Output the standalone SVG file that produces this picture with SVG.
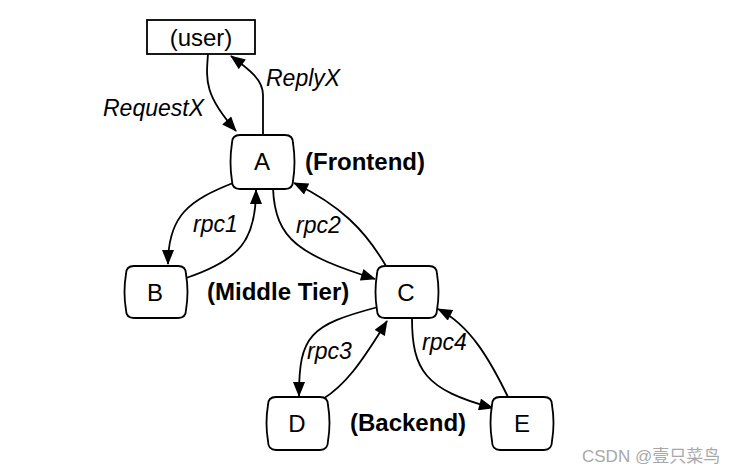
<svg xmlns="http://www.w3.org/2000/svg" width="733" height="474" viewBox="0 0 733 474">
<style>
.box{fill:#fff;stroke:#000;stroke-width:1.8}
.lbl{font-family:"Liberation Sans",Arial,sans-serif;font-size:23px;fill:#000}
.nd{font-size:24px}
.it{font-style:italic}
.bd{font-weight:bold;font-size:24px}
.mid{text-anchor:middle}
.edge{fill:none;stroke:#000;stroke-width:1.8;marker-end:url(#arr)}
</style>
<defs>
<marker id="arr" viewBox="0 0 15 12" refX="14" refY="6" markerWidth="16" markerHeight="12" markerUnits="userSpaceOnUse" orient="auto">
<path d="M0,0 L15,6 L0,12 z" fill="#000"/>
</marker>
</defs>
<rect width="733" height="474" fill="#fff"/>
<g id="connectors">
<path class="edge" d="M208 54 C206 80,204 95,236 131"/>
<path class="edge" d="M263 135 L263 95 C263 80,250 70,231 56"/>
<path class="edge" d="M233 183 C190 200,168 215,168 264"/>
<path class="edge" d="M186 278 C240 260,256 240,256 190"/>
<path class="edge" d="M273 188 C275 240,300 255,375 279"/>
<path class="edge" d="M386 266 C365 230,340 205,294 183"/>
<path class="edge" d="M378 307 C310 325,299 335,299 396"/>
<path class="edge" d="M323 399 C345 385,360 365,387 321"/>
<path class="edge" d="M412 318 C412 370,425 390,493 408"/>
<path class="edge" d="M508 397 C490 360,470 325,438 309"/>
</g>
<g id="user">
<rect class="box" x="147" y="20" width="108" height="34"/>
<text class="lbl nd mid" x="201" y="46">(user)</text>
</g>
<g id="A">
<path class="box" d="M240 135 H285 Q293 135 293 143 Q296 162 293 181 Q293 189 285 189 H240 Q232 189 232 181 Q229 162 232 143 Q232 135 240 135 Z"/>
<text class="lbl nd mid" x="262" y="170">A</text>
</g>
<g id="B">
<path class="box" d="M134 266 H178 Q186 266 186 274 Q189 292 186 310 Q186 318 178 318 H134 Q126 318 126 310 Q123 292 126 274 Q126 266 134 266 Z"/>
<text class="lbl nd mid" x="155" y="301">B</text>
</g>
<g id="C">
<path class="box" d="M385 266 H429 Q437 266 437 274 Q440 292 437 310 Q437 318 429 318 H385 Q377 318 377 310 Q374 292 377 274 Q377 266 385 266 Z"/>
<text class="lbl nd mid" x="406" y="301">C</text>
</g>
<g id="D">
<path class="box" d="M276 397 H320 Q328 397 328 405 Q331 423 328 441 Q328 450 320 450 H276 Q268 450 268 441 Q265 423 268 405 Q268 397 276 397 Z"/>
<text class="lbl nd mid" x="297" y="432">D</text>
</g>
<g id="E">
<path class="box" d="M500 397 H544 Q552 397 552 405 Q555 423 552 441 Q552 450 544 450 H500 Q492 450 492 441 Q489 423 492 405 Q492 397 500 397 Z"/>
<text class="lbl nd mid" x="522" y="432">E</text>
</g>
<g id="labels">
<text class="lbl it" x="103" y="116">RequestX</text>
<text class="lbl it" x="266" y="86">ReplyX</text>
<text class="lbl bd" x="305" y="170">(Frontend)</text>
<text class="lbl it" x="193" y="232">rpc1</text>
<text class="lbl it" x="296" y="233">rpc2</text>
<text class="lbl bd" x="207" y="300">(Middle Tier)</text>
<text class="lbl it" x="307" y="359">rpc3</text>
<text class="lbl it" x="422" y="350">rpc4</text>
<text class="lbl bd" x="350" y="431">(Backend)</text>
</g>
<text x="582" y="462" font-family="'Liberation Sans','Noto Sans CJK SC',sans-serif" font-size="17" fill="#a8a8a8">CSDN @壹只菜鸟</text>
</svg>
